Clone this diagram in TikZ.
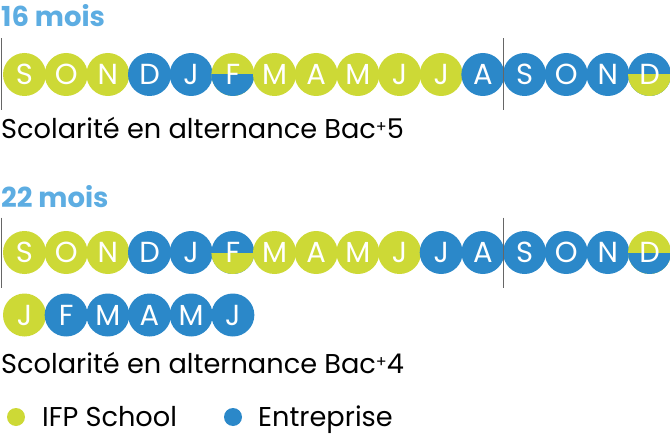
\documentclass[tikz,border=0pt]{standalone}
\usepackage{fontspec}
\setmainfont{Poppins}
\usepackage{tikz}
\usetikzlibrary{calc}
\definecolor{ifpgreen}{HTML}{CDD936}
\definecolor{ifpblue}{HTML}{2B88C9}
\definecolor{titleblue}{HTML}{5DADE2}
\definecolor{sepgray}{HTML}{666666}

\tikzset{
  month/.style={circle, minimum size=43pt, inner sep=0pt, text=white,
    font=\fontsize{29}{29}\selectfont},
  school/.style={month, fill=ifpgreen},
  firm/.style={month, fill=ifpblue},
  schoolfirm/.style={month, fill=ifpgreen, path picture={
      \fill[ifpblue] (path picture bounding box.west) rectangle (path picture bounding box.south east);}},
  firmschool/.style={month, fill=ifpblue, path picture={
      \fill[ifpgreen] (path picture bounding box.west) rectangle (path picture bounding box.south east);}},
  sep/.style={draw=sepgray, line width=1.2pt},
  title/.style={anchor=base west, inner sep=0pt, text=titleblue, font=\fontsize{27.5}{28}\selectfont\bfseries},
  caption/.style={anchor=base west, inner sep=0pt, font=\fontsize{27.2}{28}\selectfont},
  legendtext/.style={caption, text depth=0pt},
  dot/.style={circle, minimum size=18pt, inner sep=0pt}
}
\newcommand{\bacplus}{{\fontsize{16}{16}\selectfont\raisebox{6pt}{+}}}

\begin{document}
\begin{tikzpicture}[x=1pt, y=-1pt]
  \useasboundingbox (0,0) rectangle (670,436);

  % 16 mois
  \node[title] (t1) at (1,27) {16 mois};
  \foreach \m/\k [count=\i] in {S/school, O/school, N/school, D/firm, J/firm, F/schoolfirm,
      M/school, A/school, M/school, J/school, J/school, A/firm,
      S/firm, O/firm, N/firm, D/firmschool}{
    \node[\k] (a\i) at ({24.5+(\i-1)*41.67},74.5) {\m};
  }
  \draw[sep] ($(a1.west)+(-1,-36)$) -- ($(a1.west)+(-1,36)$);
  \draw[sep] ($(a12)!.5!(a13)+(0,-36)$) -- ($(a12)!.5!(a13)+(0,36)$);
  \node[caption] (c1) at (1,139) {Scolarité en alternance Bac\bacplus5};

  % 22 mois
  \node[title] (t2) at (1,207) {22 mois};
  \foreach \m/\k [count=\i] in {S/school, O/school, N/school, D/firm, J/firm, F/firmschool,
      M/school, A/school, M/school, J/school, J/firm, A/firm,
      S/firm, O/firm, N/firm, D/schoolfirm}{
    \node[\k] (b\i) at ({24.5+(\i-1)*41.67},252.5) {\m};
  }
  \foreach \m/\k [count=\i] in {J/school, F/firm, M/firm, A/firm, M/firm, J/firm}{
    \node[\k] (d\i) at ({24.5+(\i-1)*41.67},315) {\m};
  }
  \draw[sep] ($(b1.west)+(-1,-35)$) -- ($(b1.west)+(-1,35)$);
  \draw[sep] ($(b12)!.5!(b13)+(0,-35)$) -- ($(b12)!.5!(b13)+(0,35)$);
  \node[caption] (c2) at (1,373) {Scolarité en alternance Bac\bacplus4};

  % legende
  \node[dot, fill=ifpgreen] (l1) at (16,417) {};
  \node[legendtext] (l1t) at (42,426.5) {IFP School};
  \node[dot, fill=ifpblue] (l2) at (233,417) {};
  \node[legendtext] (l2t) at (258,426.5) {Entreprise};
\end{tikzpicture}
\end{document}
